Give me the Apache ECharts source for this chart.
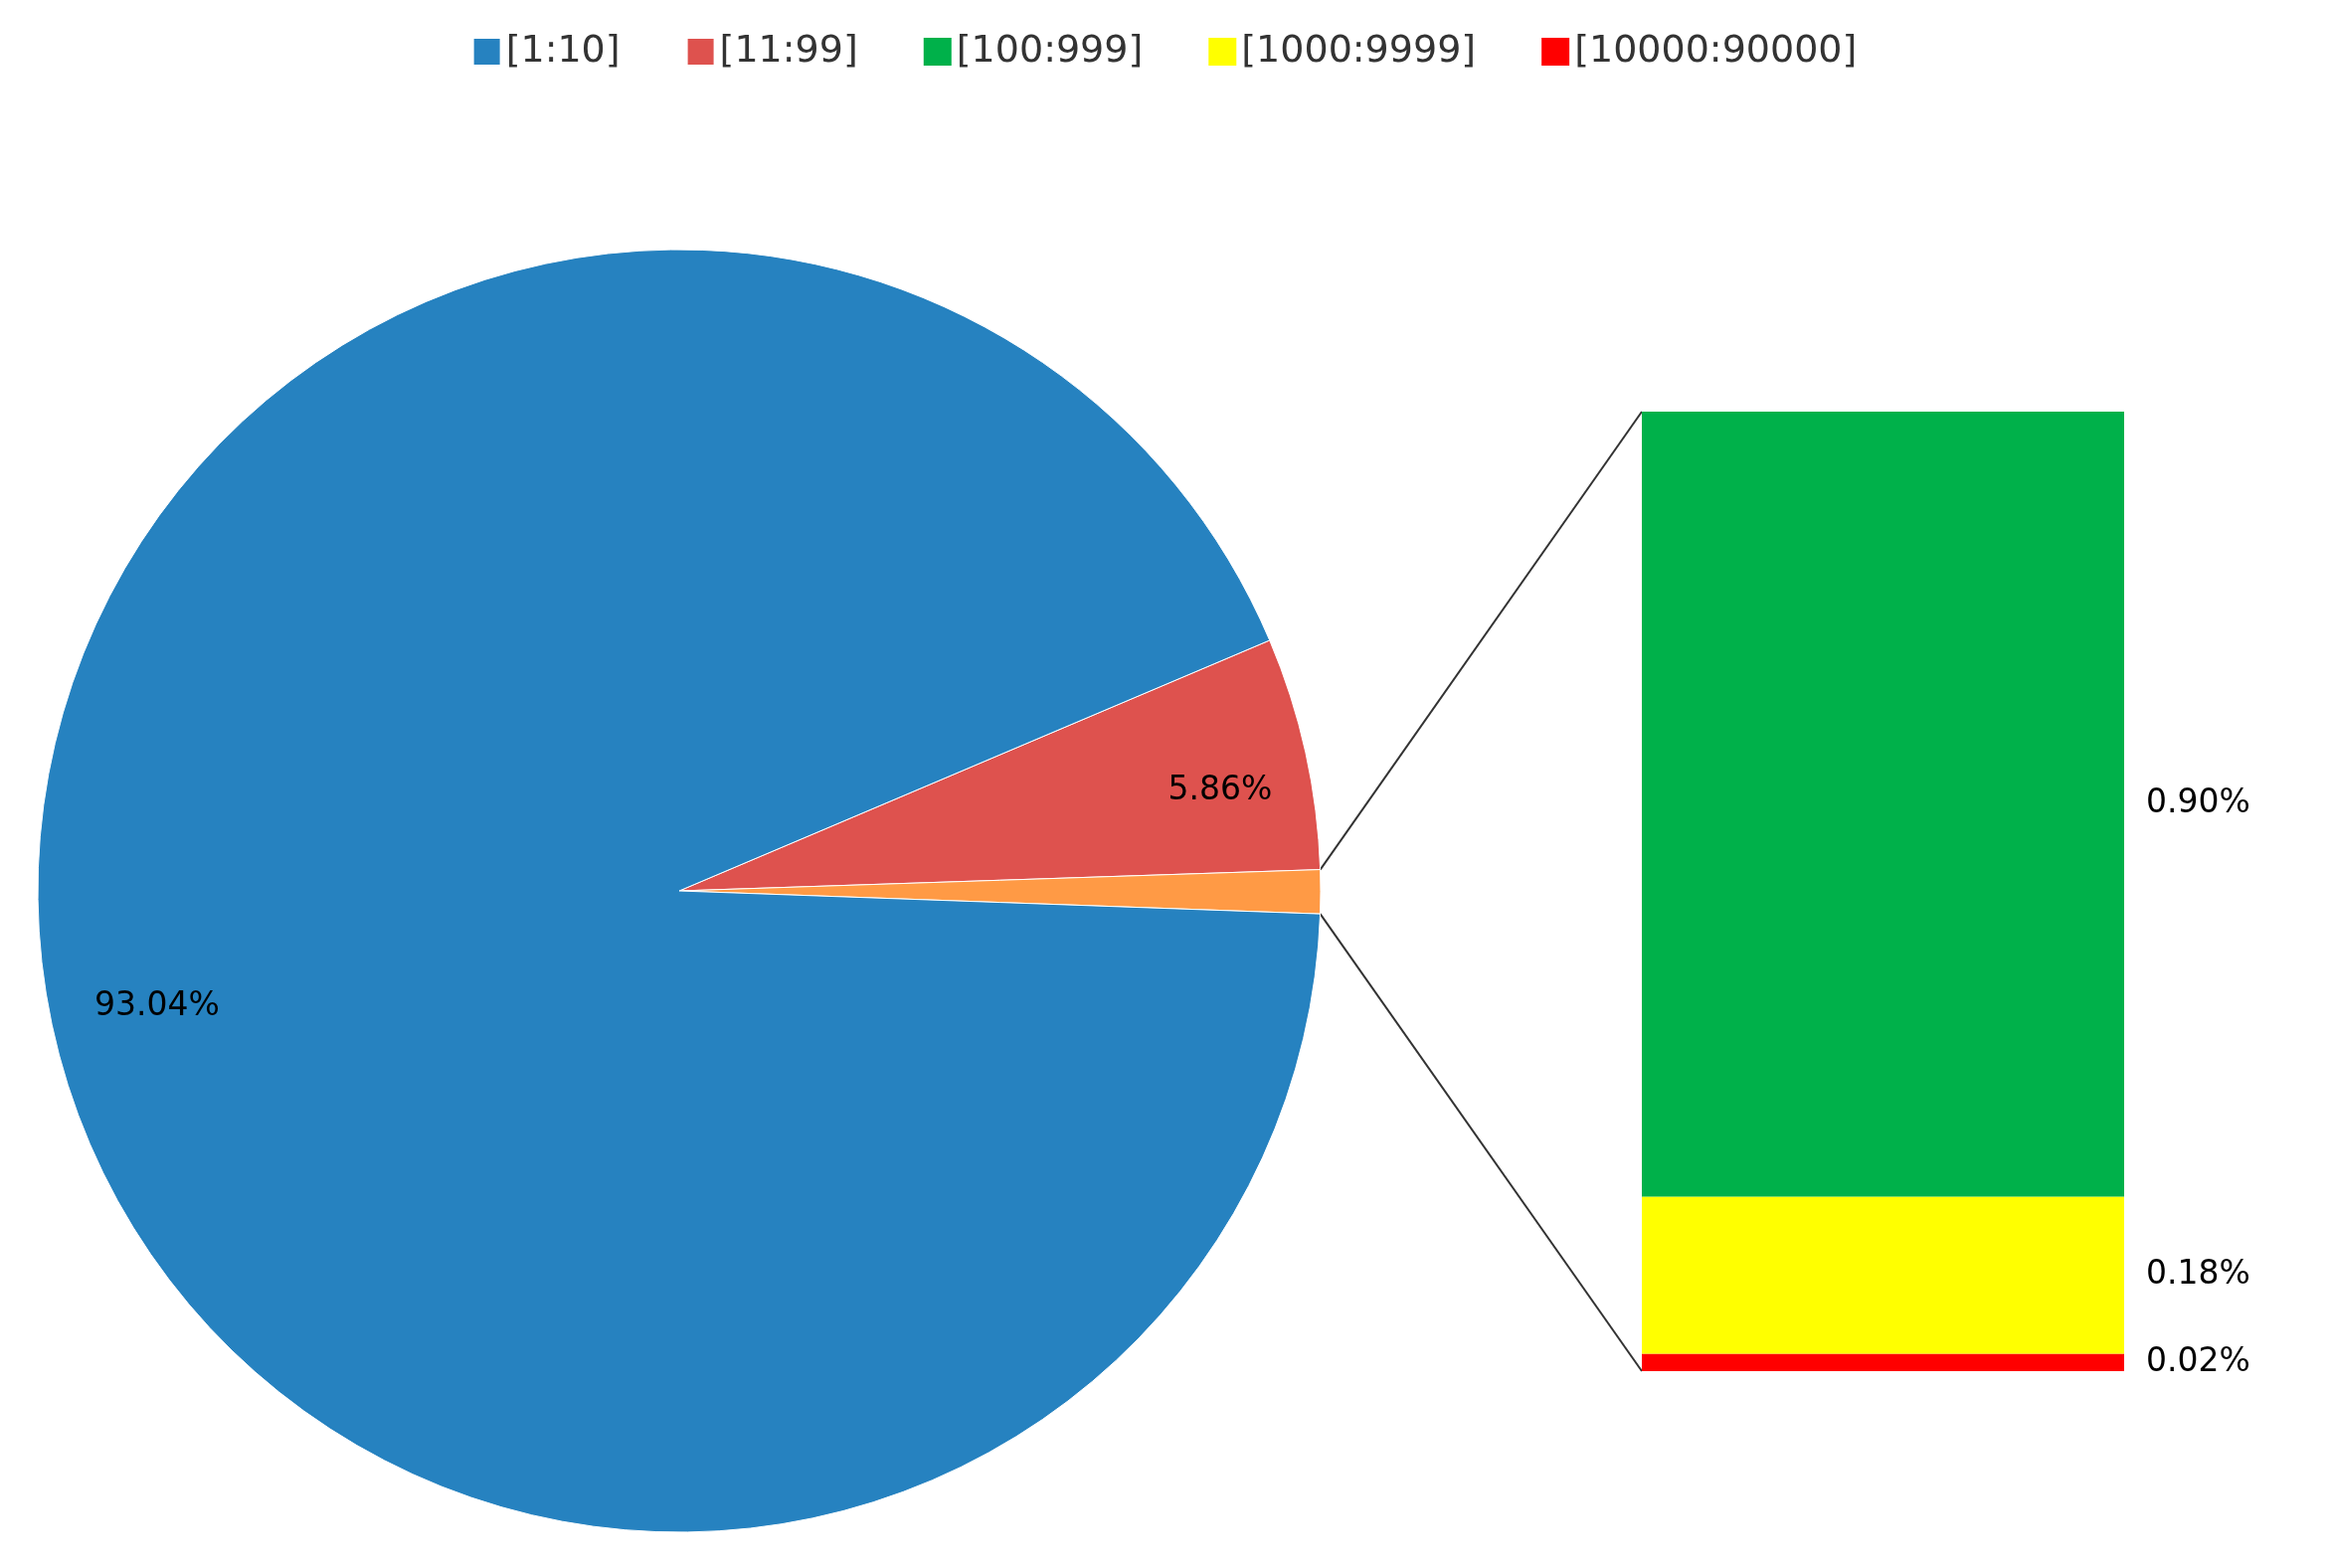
<!DOCTYPE html>
<html style="height: 100%" lang="en">
<head>
    <meta charset="UTF-8">
    <title>Pie of pie</title>
</head>
<body style="height: 100%; margin: 0; background: #fff">
<div id="main" style="width: 2342px; height: 1577px"></div>
<script src="https://cdn.jsdelivr.net/npm/echarts@6/dist/echarts.min.js"></script>
<script type="text/javascript">
    // data
    var pieNames = ['[11:99]', 'other', '[1:10]'];
    var pieValues = [5.86, 1.10, 93.04];
    var pieColors = ['#DE524E', '#FF9A45', '#2682C0'];
    var barNames = ['[10000:90000]', '[1000:9999]', '[100:999]'];
    var barValues = [0.02, 0.18, 0.90];
    var barColors = ['#FF0000', '#FFFF00', '#00B14A'];
    var legendNames = ['[1:10]', '[11:99]', '[100:999]', '[1000:9999]', '[10000:90000]'];

    // layout
    var cx = 683, cy = 896, R = 645, startAngle = 23;
    var gLeft = 1651, gTop = 414, gW = 485, gH = 965;
    var font = 'DejaVu Sans';

    var total = pieValues.reduce(function (a, b) { return a + b; }, 0);
    var aTop = startAngle - 360 * pieValues[0] / total;
    var aBot = aTop - 360 * pieValues[1] / total;
    function pt(a) {
        var r = a * Math.PI / 180;
        return [cx + R * Math.cos(r), cy - R * Math.sin(r)];
    }
    var pTop = pt(aTop), pBot = pt(aBot);
    var yMax = 1.10;
    var barSum = barValues.reduce(function (a, b) { return a + b; }, 0);
    var barTopY = gTop + gH * (1 - barSum / yMax);

    var myChart = echarts.init(document.getElementById('main'));
    var series = [{
        type: 'pie',
        center: [cx, cy],
        radius: R,
        startAngle: startAngle,
        clockwise: true,
        label: {
            position: 'inside',
            fontFamily: font,
            fontSize: 33,
            color: '#000',
            formatter: function (p) { return p.dataIndex === 1 ? '' : p.value.toFixed(2) + '%'; }
        },
        labelLayout: function (p) {
            if (p.dataIndex === 2) return {dx: -205, dy: 57};
            if (p.dataIndex === 0) return {dx: 226, dy: -30};
            return {};
        },
        itemStyle: {borderColor: '#fff', borderWidth: 1},
        emphasis: {disabled: true},
        data: pieNames.map(function (n, i) {
            return {name: n, value: pieValues[i], itemStyle: {color: pieColors[i]}};
        })
    }];
    barNames.forEach(function (n, i) {
        series.push({
            name: n,
            type: 'bar',
            stack: 'b',
            barWidth: '100%',
            itemStyle: {color: barColors[i]},
            label: {
                show: true,
                position: 'right',
                distance: 22,
                fontFamily: font,
                fontSize: 33,
                color: '#000',
                formatter: function (p) { return p.value.toFixed(2) + '%'; }
            },
            data: [barValues[i]]
        });
    });

    var option = {
        animation: false,
        legend: {
            data: legendNames,
            top: 28,
            left: 'center',
            itemWidth: 28,
            itemHeight: 28,
            itemGap: 66,
            icon: 'rect',
            textStyle: {fontFamily: font, fontSize: 38, color: '#333'}
        },
        grid: {left: gLeft, top: gTop, width: gW, height: gH},
        xAxis: {type: 'category', data: ['x'], show: false},
        yAxis: {type: 'value', min: 0, max: yMax, show: false},
        series: series,
        graphic: [
            {type: 'line', shape: {x1: pTop[0], y1: pTop[1], x2: gLeft, y2: barTopY}, style: {stroke: '#333', lineWidth: 2}},
            {type: 'line', shape: {x1: pBot[0], y1: pBot[1], x2: gLeft, y2: gTop + gH}, style: {stroke: '#333', lineWidth: 2}}
        ]
    };
    myChart.setOption(option);
</script>
</body>
</html>
